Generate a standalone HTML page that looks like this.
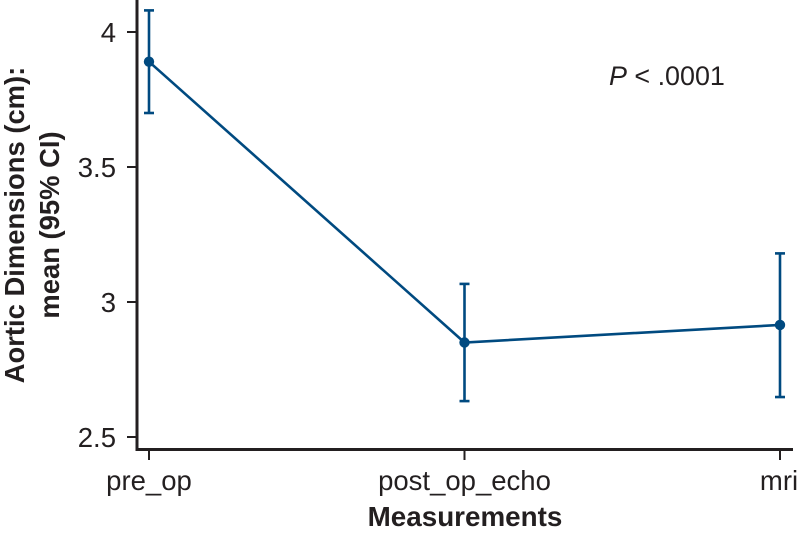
<!DOCTYPE html>
<html>
<head>
<meta charset="utf-8">
<style>
html,body{margin:0;padding:0;background:#fff;}
svg{display:block;font-family:"Liberation Sans",Arial,sans-serif;}
</style>
</head>
<body>
<svg id="chart" xmlns="http://www.w3.org/2000/svg" width="799" height="533" viewBox="0 0 799 533"></svg>
<script>
const categories = ["pre_op", "post_op_echo", "mri"];
const means = [3.89, 2.85, 2.915];
const ciUpper = [4.08, 3.067, 3.18];
const ciLower = [3.70, 2.633, 2.648];
const yTicks = [2.5, 3, 3.5, 4];
const yTickLabels = ["2.5", "3", "3.5", "4"];

const svg = document.getElementById('chart');
const NS = 'http://www.w3.org/2000/svg';
const INK = '#231f20';
const BLUE = '#004a80';

function yScale(v) { return 32 + (4 - v) * 270; }
function xScale(i) { return 149 + i * 315.5; }

function make(tag, attrs, text) {
  const el = document.createElementNS(NS, tag);
  for (const k in attrs) el.setAttribute(k, attrs[k]);
  if (text !== undefined) el.textContent = text;
  svg.appendChild(el);
  return el;
}

let el;

el = make('rect', {x: 0, y: 0, width: 799, height: 533, fill: '#fff'});



el = make('line', {x1: 137, y1: 0, x2: 137, y2: 451, stroke: INK, 'stroke-width': 3});



el = make('line', {x1: 135.5, y1: 449.5, x2: 793, y2: 449.5, stroke: INK, 'stroke-width': 3});



yTicks.forEach(function (v, i) {
  const y = yScale(v);
  let t = make('line', {x1: 127, y1: y, x2: 137, y2: y, stroke: INK, 'stroke-width': 2});
  
  
  t = make('text', {x: 116, y: y + 10, 'text-anchor': 'end', 'font-size': 27.5, fill: INK}, yTickLabels[i]);
  
  
});

categories.forEach(function (c, i) {
  const x = xScale(i);
  let t = make('line', {x1: x, y1: 450, x2: x, y2: 460, stroke: INK, 'stroke-width': 2});
  
  
  t = make('text', {x: i === 2 ? 779 : x, y: 490, 'text-anchor': 'middle', 'font-size': 27.5, fill: INK}, c);
  
  
});

el = make('polyline', {
  points: means.map(function (m, i) { return xScale(i) + ',' + yScale(m); }).join(' '),
  fill: 'none', stroke: BLUE, 'stroke-width': 2.6
});



means.forEach(function (m, i) {
  const x = xScale(i);
  let e = make('line', {x1: x, y1: yScale(ciUpper[i]), x2: x, y2: yScale(ciLower[i]), stroke: BLUE, 'stroke-width': 2.6});
  
  
  e = make('line', {x1: x - 5, y1: yScale(ciUpper[i]), x2: x + 5, y2: yScale(ciUpper[i]), stroke: BLUE, 'stroke-width': 2.6});
  
  
  e = make('line', {x1: x - 5, y1: yScale(ciLower[i]), x2: x + 5, y2: yScale(ciLower[i]), stroke: BLUE, 'stroke-width': 2.6});
  
  
  e = make('circle', {cx: x, cy: yScale(m), r: 5.2, fill: BLUE});
  
  
});

el = make('text', {x: 465, y: 526, 'text-anchor': 'middle', 'font-size': 27.8, 'font-weight': 'bold', fill: INK}, 'Measurements');



el = make('text', {transform: 'translate(24,225) rotate(-90)', 'text-anchor': 'middle', 'font-size': 27.4, 'font-weight': 'bold', fill: INK}, 'Aortic Dimensions (cm):');



el = make('text', {transform: 'translate(59,225) rotate(-90)', 'text-anchor': 'middle', 'font-size': 27.4, 'font-weight': 'bold', fill: INK}, 'mean (95% CI)');



el = make('text', {x: 609, y: 85, 'font-size': 26.9, fill: INK});


const pItalic = document.createElementNS(NS, 'tspan');
pItalic.setAttribute('font-style', 'italic');
pItalic.textContent = 'P';
el.appendChild(pItalic);
el.appendChild(document.createTextNode(' < .0001'));
</script>
</body>
</html>
